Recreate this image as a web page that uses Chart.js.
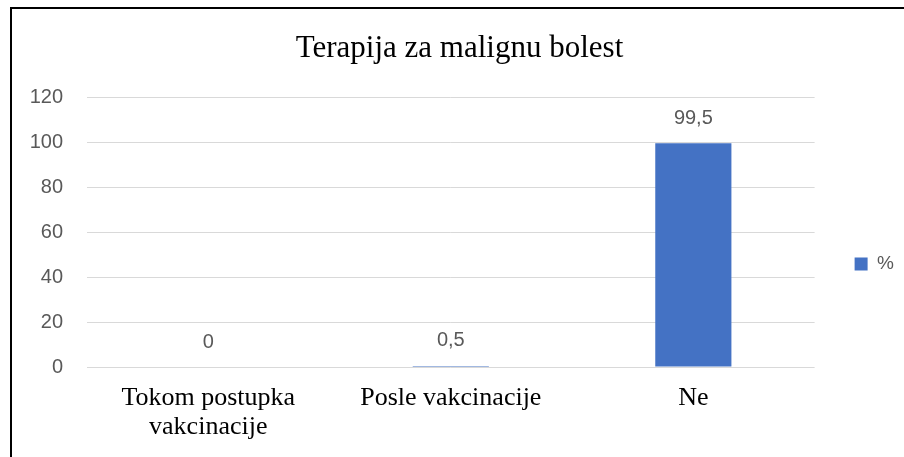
<!DOCTYPE html>
<html>
<head>
<meta charset="utf-8">
<script src="https://cdn.jsdelivr.net/npm/chart.js@4/dist/chart.umd.min.js"></script>
<style>
  html, body { margin: 0; padding: 0; background: #fff; }
  #frame {
    position: absolute; left: 10px; top: 7px;
    width: 892px; height: 448px;
    border-left: 2px solid #000; border-top: 2px solid #000;
  }
  #chart { display: block; }
</style>
</head>
<body>
<div id="frame"><canvas id="chart" width="892" height="448"></canvas></div>
<script>
// podaci
const categories = [['Tokom postupka', 'vakcinacije'], 'Posle vakcinacije', 'Ne'];
const percentValues = [0, 0.5, 99.5];
const seriesLabel = '%';
const yTicks = [0, 20, 40, 60, 80, 100, 120];

const grayText = '#595959';
const sans = '"Liberation Sans", Arial, sans-serif';
const serif = '"Liberation Serif", "Times New Roman", serif';

// vrednosti iznad stubova, sa decimalnim zarezom
const valueLabels = {
    id: 'valueLabels',
    afterDatasetsDraw(chart) {
        const { ctx } = chart;
        const meta = chart.getDatasetMeta(0);
        ctx.save();
        ctx.fillStyle = grayText;
        ctx.font = '20px ' + sans;
        ctx.textAlign = 'center';
        ctx.textBaseline = 'middle';
        meta.data.forEach((bar, i) => {
            const v = chart.data.datasets[0].data[i];
            ctx.fillText(String(v).replace('.', ','), bar.x, bar.y - 25);
        });
        ctx.restore();
    },
};

// legenda niže i desno, naslov centriran preko cele širine (kao u Excelu)
const boxNudge = {
    id: 'boxNudge',
    afterLayout(chart) {
        const lg = chart.legend;
        lg.left += 30;
        lg.right += 30;
        lg.top += 31;
        lg.bottom += 31;
        chart.titleBlock.right += 33;
    },
};

new Chart(document.getElementById('chart'), {
    type: 'bar',
    data: {
        labels: categories,
        datasets: [
            {
                label: seriesLabel,
                data: percentValues,
                backgroundColor: '#4472c4',
                borderWidth: 0,
                barPercentage: 1,
                categoryPercentage: 0.314,
            },
        ],
    },
    options: {
        responsive: false,
        animation: false,
        layout: { padding: { right: 30 } },
        scales: {
            x: {
                grid: { display: false, drawTicks: false },
                border: { display: false },
                ticks: {
                    color: '#000',
                    padding: 17,
                    maxRotation: 0,
                    font: { family: serif, size: 26, lineHeight: 1.1 },
                },
                afterFit: (s) => { s.height = 90; },
            },
            y: {
                min: 0,
                max: 120,
                grid: { color: '#d9d9d9', lineWidth: 1, drawTicks: false },
                border: { display: false },
                afterBuildTicks: (s) => { s.ticks = yTicks.map((v) => ({ value: v })); },
                ticks: {
                    color: grayText,
                    padding: 24,
                    font: { family: sans, size: 20 },
                },
                afterFit: (s) => { s.width = 75; },
            },
        },
        plugins: {
            title: {
                display: true,
                text: 'Terapija za malignu bolest',
                color: '#000',
                font: { family: serif, size: 31, weight: 'normal', lineHeight: 1.2 },
                padding: { top: 21, bottom: 30 },
            },
            legend: {
                position: 'right',
                labels: {
                    color: grayText,
                    boxWidth: 13,
                    boxHeight: 13,
                    padding: 10,
                    font: { family: sans, size: 19 },
                },
            },
            tooltip: { enabled: false },
        },
    },
    plugins: [valueLabels, boxNudge],
});
</script>
</body>
</html>
